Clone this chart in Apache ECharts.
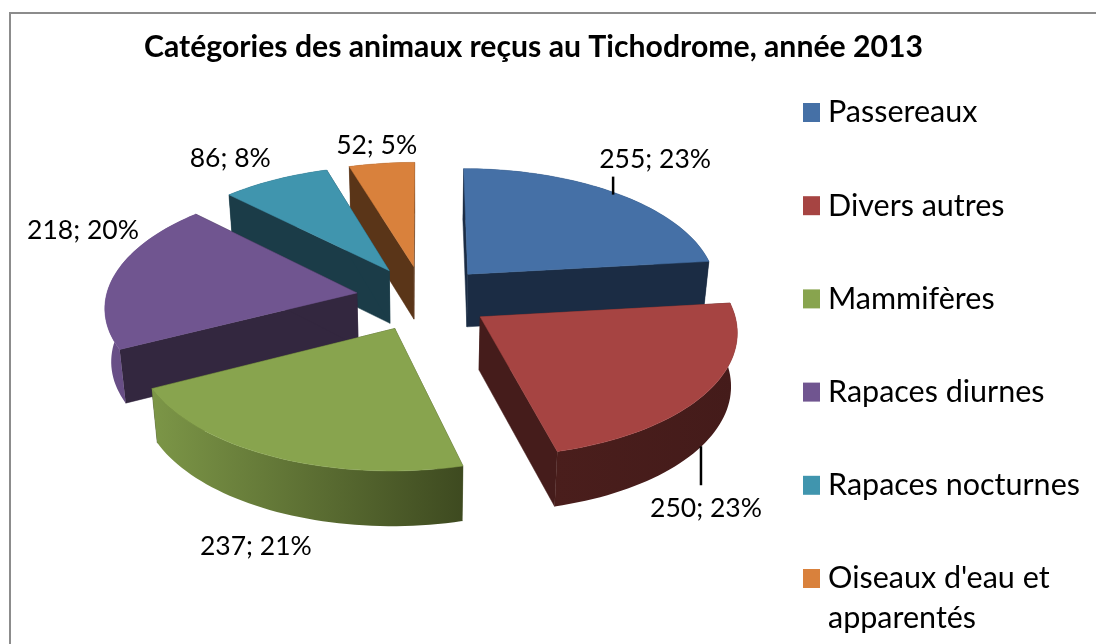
<!DOCTYPE html>
<html><head><meta charset="utf-8">
<style>html,body{margin:0;padding:0;background:#fff}#c{width:1096px;height:644px}</style>
<script src="https://cdn.jsdelivr.net/npm/echarts@6/dist/echarts.min.js"></script>
</head><body><div id="c"></div>
<script>
const chartTitle = "Catégories des animaux reçus au Tichodrome, année 2013";
const categories = ["Passereaux", "Divers autres", "Mammifères", "Rapaces diurnes", "Rapaces nocturnes", "Oiseaux d'eau et\napparentés"];
const values = [255, 250, 237, 218, 86, 52];
const percents = [23, 23, 21, 20, 8, 5];

const topColors = ["#4570a6", "#a64442", "#88a44e", "#705590", "#4095ae", "#d9813c"];
const cutColors = ["#1b2c44", "#451c1b", "#3f4a20", "#33273f", "#1b3c48", "#5a3518"];
const wallStops = [["#1b2c44", "#1b2c44"], ["#4a1e1c", "#441b1a"], ["#7c9647", "#3e4a20"], ["#6a5088", "#5c4678"], ["#1b3c48", "#1b3c48"], ["#5a3518", "#5a3518"]];
const paintOrder = [5, 0, 4, 3, 1, 2];

// Projection of the tilted disc on the page
const view = { cx: 423.5, cy: 298, a: 251, b: 121, persp: 0.103, explode: 0.27, height: 53, floorScale: 0.98 };
// Label placement relative to the rim point on each slice's bisector
const labelOffset = [[38, -34], [-1, 116], [-18, 90], [-32, -44], [-45, -21], [-5, -18]];
const leaders = [[[-4, -17], [-4, 1]], [[-6, 54], [-6, 93]], null, null, null, null];

const total = values.reduce((s, v) => s + v, 0);
const starts = [];
values.reduce((acc, v, i) => { starts[i] = acc; return acc + v; }, 0);

function project(X, Y) {
  const s = 1 / (1 - view.persp * Y);
  return { x: view.cx + view.a * X * s, y: view.cy + view.b * Y * s, s };
}
function floor(p) {
  return [view.cx + (p.x - view.cx) * view.floorScale, p.y + view.height * Math.pow(p.s, 0.3)];
}
function renderSlice(idx) {
  return function (params, api) {
    const t0 = starts[idx] / total * 2 * Math.PI;
    const t1 = (starts[idx] + values[idx]) / total * 2 * Math.PI;
    const mid = (t0 + t1) / 2;
    const ox = view.explode * Math.sin(mid), oy = -view.explode * Math.cos(mid);
    const n = Math.max(4, Math.ceil((t1 - t0) / 0.03));
    const rim = [];
    for (let k = 0; k <= n; k++) {
      const t = t0 + (t1 - t0) * k / n;
      rim.push(project(ox + Math.sin(t), oy - Math.cos(t)));
    }
    const apex = project(ox, oy);
    const kids = [];
    const poly = (pts, fill) => kids.push({ type: 'polygon', shape: { points: pts }, style: { fill, stroke: typeof fill === 'string' ? fill : null, lineWidth: 0.5 } });
    const xy = p => [p.x, p.y];
    [rim[0], rim[n]].forEach(e => poly([xy(apex), xy(e), floor(e), floor(apex)], cutColors[idx]));
    poly(rim.map(xy).concat(rim.slice().reverse().map(floor)), {
      type: 'linear', x: 0, y: 0, x2: 1, y2: 0,
      colorStops: [{ offset: 0, color: wallStops[idx][0] }, { offset: 1, color: wallStops[idx][1] }]
    });
    poly([xy(apex)].concat(rim.map(xy)), api.visual('color'));
    const r = project(ox + Math.sin(mid), oy - Math.cos(mid));
    const lb = labelOffset[idx];
    kids.push({ type: 'text', style: { x: r.x + lb[0], y: r.y + lb[1], text: values[idx] + '; ' + percents[idx] + '%', font: '26.5px Lato', fill: '#000', align: 'center', verticalAlign: 'middle' } });
    if (leaders[idx]) {
      const l = leaders[idx];
      kids.push({ type: 'line', shape: { x1: r.x + l[0][0], y1: r.y + l[0][1], x2: r.x + l[1][0], y2: r.y + l[1][1] }, style: { stroke: '#000', lineWidth: 2.5 } });
    }
    return { type: 'group', children: kids };
  };
}
const firstLine = s => s.split('\n')[0];
const secondLine = categories[5].split('\n')[1];

const chart = echarts.init(document.getElementById('c'), null, { renderer: 'canvas' });
chart.setOption({
  animation: false,
  backgroundColor: '#fff',
  title: { text: chartTitle, left: 528.5, top: 27, textAlign: 'center', textStyle: { fontFamily: 'Lato', fontWeight: 'bold', fontSize: 30.2, color: '#000' } },
  legend: {
    orient: 'vertical', left: 803, top: 92.5, padding: 0,
    icon: 'rect', itemWidth: 17, itemHeight: 19, itemGap: 53.2,
    data: categories.slice(),
    formatter: firstLine,
    selectedMode: false,
    textStyle: { fontFamily: 'Lato', fontSize: 30.5, color: '#000', lineHeight: 40, padding: [0, 0, 0, 3] }
  },
  graphic: [
    { type: 'rect', silent: true, shape: { x: 10, y: 13, width: 1200, height: 800 }, style: { fill: 'none', stroke: '#8c8c8c', lineWidth: 2 } },
    { type: 'text', silent: true, style: { x: 828, y: 618, text: secondLine, font: '30.5px Lato', fill: '#000', verticalAlign: 'middle' } }
  ],
  series: paintOrder.map(i => ({
    type: 'custom', coordinateSystem: 'none', name: categories[i],
    itemStyle: { color: topColors[i] },
    renderItem: renderSlice(i),
    data: [values[i]]
  }))
});
</script></body></html>
